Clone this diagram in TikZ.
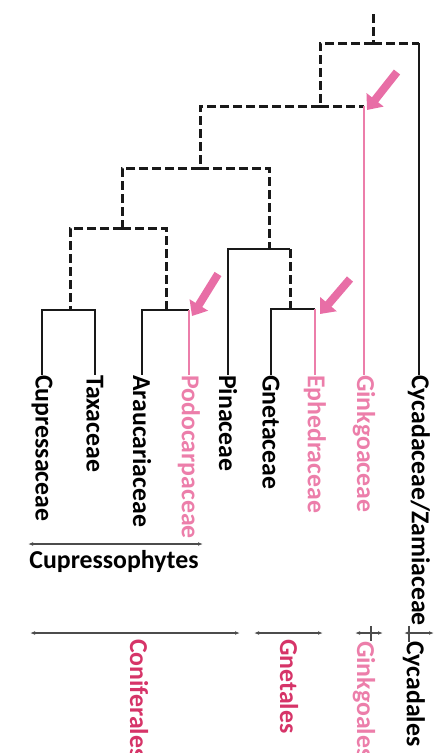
\documentclass[tikz,border=0pt]{standalone}
\usepackage{fontspec}
\setmainfont{Carlito}
\usetikzlibrary{arrows.meta}
\definecolor{lpink}{RGB}{236,126,170}
\definecolor{dpink}{RGB}{214,52,104}
\definecolor{apink}{RGB}{232,110,166}
\begin{document}
\begin{tikzpicture}[x=1pt, y=-1pt,
    every node/.style={font=\fontsize{25.8}{30}\selectfont\bfseries, inner sep=0pt},
    taxon/.style={rotate=-90, anchor=west},
    dsh/.style={draw=black!90, line width=3pt, dash pattern=on 9pt off 4pt},
    sld/.style={draw=black!90, line width=2.8pt},
    pnk/.style={draw=lpink, line width=1.8pt},
    hint/.style={line width=8pt, apink, -{Triangle[width=21pt, length=13pt]}},
    span/.style={draw=black!70, line width=1.4pt, {Latex[length=5pt]}-{Latex[length=5pt]}}]
    \useasboundingbox (0,0) rectangle (439,753);
    % taxa
    \node[taxon] (cup) at (42,375) {Cupressaceae};
    \node[taxon] (tax) at (95,375) {Taxaceae};
    \node[taxon] (ara) at (142,375) {Araucariaceae};
    \node[taxon, lpink] (pod) at (189,375) {Podocarpaceae};
    \node[taxon] (pin) at (228,375) {Pinaceae};
    \node[taxon] (gne) at (271,375) {Gnetaceae};
    \node[taxon, lpink] (eph) at (315,375) {Ephedraceae};
    \node[taxon, lpink] (gin) at (364,375) {Ginkgoaceae};
    \node[taxon] (cyc) at (419,375) {Cycadaceae/Zamiaceae};
    % joints
    \coordinate (top) at (373,14);
    \coordinate (c0) at (373,43);
    \coordinate (c1) at (320,106);
    \coordinate (c2) at (200,168);
    \coordinate (c3) at (122,228);
    \coordinate (c4) at (269,249);
    \coordinate (c5) at (290,309);
    \coordinate (c6) at (70,310);
    \coordinate (c7) at (166,310);
    % dashed backbone
    \draw[dsh] (top) -- (c0);
    \draw[dsh] (c0) -| (c1);
    \draw[dsh] (c0) -- (c0 -| cyc.west);
    \draw[dsh] (c1) -| (c2);
    \draw[dsh] (c1) -- (c1 -| gin.west);
    \draw[dsh] (c2) -| (c3);
    \draw[dsh] (c2) -| (c4);
    \draw[dsh] (c3) -| (c6);
    \draw[dsh] (c3) -| (c7);
    \draw[dsh] (c4 -| c5) -- (c5);
    % solid branches
    \draw[sld] (c0 -| cyc.west) -- (cyc.west);
    \draw[sld] (c4) -| (pin.west);
    \draw[sld] (c4) -- (c4 -| c5);
    \draw[sld] (c5) -| (gne.west);
    \draw[sld] (c5) -- (c5 -| eph.west);
    \draw[sld] (c6) -| (cup.west);
    \draw[sld] (c6) -| (tax.west);
    \draw[sld] (c7) -| (ara.west);
    \draw[sld] (c7) -- (c7 -| pod.west);
    % pink branches
    \draw[pnk] (c1 -| gin.west) -- (gin.west);
    \draw[pnk] (c5 -| eph.west) -- (eph.west);
    \draw[pnk] (c7 -| pod.west) -- (pod.west);
    % arrows
    \coordinate (m1) at (397,72);
    \coordinate (m2) at (218,274);
    \coordinate (m3) at (350,279);
    \draw[hint] (m1) -- ([xshift=3pt, yshift=-4pt]c1 -| gin.west);
    \draw[hint] (m2) -- ([xshift=3pt, yshift=-6pt]c7 -| pod.west);
    \draw[hint] (m3) -- ([xshift=5pt, yshift=-5pt]c5 -| eph.west);
    % groups
    \coordinate (cpL) at (28,544);
    \coordinate (cpR) at (203,544);
    \draw[span] (cpL) -- (cpR);
    \node (cupgrp) at (114,561) {Cupressophytes};
    \coordinate (coL) at (30,633);
    \coordinate (coR) at (240,633);
    \coordinate (gnL) at (254,633);
    \coordinate (gnR) at (323,633);
    \coordinate (giL) at (355,633);
    \coordinate (giR) at (383,633);
    \coordinate (cyL) at (404,633);
    \coordinate (cyR) at (434,633);
    \draw[span] (coL) -- (coR);
    \draw[span] (gnL) -- (gnR);
    \draw[span] (giL) -- (giR);
    \draw[span] (cyL) -- (cyR);
    \draw[black!70, line width=1.4pt] (371,626) -- (371,641);
    \draw[black!70, line width=1.4pt] (409,626) -- (409,642);
    \node[taxon, dpink] (con) at (139,639) {Coniferales};
    \node[taxon, dpink] (gnt) at (289,639) {Gnetales};
    \node[taxon, lpink] (gko) at (364,641) {Ginkgoales};
    \node[taxon] (cyd) at (414,641) {Cycadales};
\end{tikzpicture}
\end{document}
